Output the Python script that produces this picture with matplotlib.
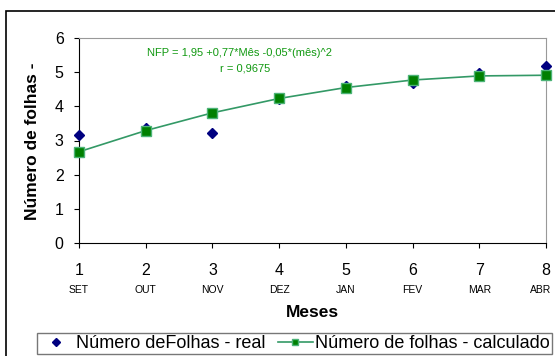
import matplotlib
matplotlib.use("Agg")
from matplotlib import pyplot as plt
from matplotlib.patches import Rectangle
from matplotlib.lines import Line2D

plt.rcParams['font.family'] = ['Liberation Sans', 'DejaVu Sans']

# Data
meses = [1, 2, 3, 4, 5, 6, 7, 8]
mes_nomes = ["SET", "OUT", "NOV", "DEZ", "JAN", "FEV", "MAR", "ABR"]
folhas_real = [3.17, 3.38, 3.21, 4.22, 4.60, 4.68, 4.98, 5.18]
folhas_calc = [2.67, 3.29, 3.81, 4.23, 4.55, 4.77, 4.89, 4.91]

fig = plt.figure(figsize=(5.55, 3.56), dpi=100)
ax = fig.add_axes([79/555, 1 - 243/356, 467/555, 205/356])

# Outer chart border (runs off the right/bottom of the picture)
fig.patches.append(Rectangle((6/555, -0.05), 1.2, 1 - 11/356 + 0.05, transform=fig.transFigure,
                             fill=False, edgecolor="black", linewidth=1.2, clip_on=False))

ax.plot(meses, folhas_real, linestyle="none", marker="D", markersize=5,
        color="#000080", clip_on=False, zorder=3)
ax.plot(meses, folhas_calc, color="#339966", linewidth=1.2, marker="s", markersize=7,
        markerfacecolor="#008000", markeredgecolor="#4CB377", markeredgewidth=1,
        clip_on=False, zorder=4)

ax.set_xlim(1, 8)
ax.set_ylim(0, 6)
ax.set_xticks(meses)
ax.set_xticklabels([str(m) for m in meses], fontsize=11.5)
ax.set_yticks(range(0, 7))
ax.tick_params(axis="y", labelsize=11.5, direction="out", length=3.5, pad=7.5)
ax.tick_params(axis="x", direction="out", length=3.5, pad=11)

for spine in ["top", "right"]:
    ax.spines[spine].set_color("#999999")
for spine in ["left", "bottom"]:
    ax.spines[spine].set_color("black")

# Month names under the tick numbers (last one nudged in so it stays inside)
for m, nome in zip(meses, mes_nomes):
    dx = -4 if m == meses[-1] else 0
    ax.annotate(nome, xy=(m, 0), xycoords="data", xytext=(dx, -30), textcoords="offset points",
                ha="center", va="top", fontsize=7.5, annotation_clip=False)

ax.text(0.5, -0.337, "Meses", transform=ax.transAxes, ha="center", va="center",
        fontsize=12.5, fontweight="bold")
fig.text(33/555, 1 - 141/356, "Número de folhas -", rotation=90, ha="center", va="center",
         fontsize=12.5, fontweight="bold")

ax.text(0.343, 0.927, "NFP = 1,95 +0,77*Mês -0,05*(mês)^2", transform=ax.transAxes,
        ha="center", va="center", fontsize=8, color="#119911")
ax.text(0.355, 0.849, "r = 0,9675", transform=ax.transAxes,
        ha="center", va="center", fontsize=8, color="#119911")

handles = [
    Line2D([], [], linestyle="none", marker="D", markersize=4, color="#000080"),
    Line2D([], [], color="#339966", linewidth=1.2, marker="s", markersize=5,
           markerfacecolor="#008000", markeredgecolor="#4CB377"),
]
leg = fig.legend(handles, ["Número deFolhas - real", "Número de folhas - calculado"],
                 loc="lower left", bbox_to_anchor=(37/555, 2/356), ncol=2, fontsize=13,
                 frameon=True, fancybox=False, edgecolor="#555555", borderpad=0.12,
                 handlelength=1.9, handletextpad=0.15, columnspacing=0.7, borderaxespad=0)
leg.get_frame().set_linewidth(1)

fig.savefig("out.png", dpi=100)
